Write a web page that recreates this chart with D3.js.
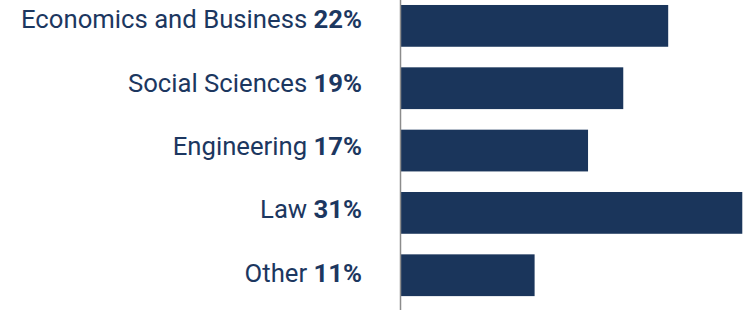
<!DOCTYPE html>
<html>
<head>
<meta charset="utf-8">
<title>Share by field</title>
<style>
  html, body { margin: 0; padding: 0; background: #fff; }
  svg { display: block; }
  text { font-family: Roboto, "Noto Sans", sans-serif; }
</style>
</head>
<body>
<div id="chart"></div>
<script src="https://d3js.org/d3.v7.min.js"></script>
<script>
// categories and the printed percentages
var categories = ["Economics and Business", "Social Sciences", "Engineering", "Law", "Other"];
var labels     = ["22%", "19%", "17%", "31%", "11%"];
// bar lengths (they don't track the labels exactly)
var barValues  = [22, 18.3, 15.4, 28.1, 11];

var width = 744, height = 310,
    axisX = 401,
    navy = "#1a355b";

var svg = d3.select("#chart").append("svg")
    .attr("width", width)
    .attr("height", height);

var x = d3.scaleLinear()
    .domain([0, 22])
    .range([axisX, axisX + 267.2]);

var y = d3.scaleBand()
    .domain(categories)
    .range([-5.3, 306.4])
    .paddingInner(0.33)
    .paddingOuter(0.165);

// label baselines sit on a slightly wider spacing than the bars
var yLabel = d3.scalePoint()
    .domain(categories)
    .range([28.3, 281.7]);

var rows = categories.map(function(c, i) {
  return { cat: c, label: labels[i], value: barValues[i] };
});

svg.selectAll(".bar")
    .data(rows)
    .enter().append("rect")
    .attr("class", "bar")
    .attr("x", x(0))
    .attr("y", function(d) { return y(d.cat); })
    .attr("width", function(d) { return x(d.value) - x(0); })
    .attr("height", y.bandwidth())
    .attr("fill", navy);

// vertical axis line
svg.append("line")
    .attr("x1", axisX - 0.5).attr("x2", axisX - 0.5)
    .attr("y1", 0).attr("y2", height)
    .attr("stroke", "#8c8c8c")
    .attr("stroke-width", 1.5);

var txt = svg.selectAll(".lbl")
    .data(rows)
    .enter().append("text")
    .attr("class", "lbl")
    .attr("x", 362)
    .attr("y", function(d) { return yLabel(d.cat); })
    .attr("text-anchor", "end")
    .attr("fill", "#1c3760")
    .style("font-size", "25.7px");

txt.append("tspan").text(function(d) { return d.cat + " "; });
txt.append("tspan")
    .style("font-weight", "bold")
    .text(function(d) { return d.label; });
</script>
</body>
</html>
